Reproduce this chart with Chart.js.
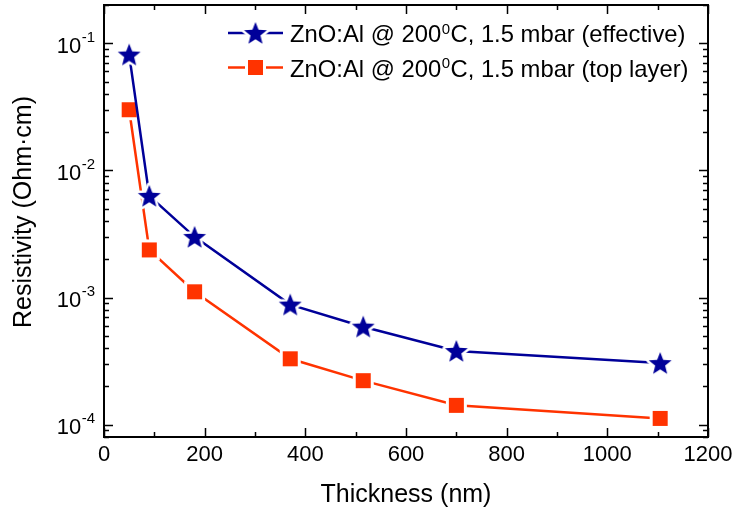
<!DOCTYPE html>
<html>
<head>
<meta charset="utf-8">
<script src="https://cdn.jsdelivr.net/npm/chart.js@4/dist/chart.umd.min.js"></script>
<style>
  html, body { margin: 0; padding: 0; background: #fff; }
  #wrap { width: 735px; height: 511px; }
</style>
</head>
<body>
<div id="wrap"><canvas id="c" width="735" height="511"></canvas></div>
<script>
// ---- data ----
const thickness = [50, 90, 180, 370, 515, 700, 1105];
const effective = [0.0815, 0.0063, 0.0030, 0.00088, 0.00059, 0.00038, 0.000305];
const topLayer  = [0.0300, 0.00237, 0.00111, 0.00033, 0.000222, 0.000142, 0.000112];
const seriesPrefix = 'ZnO:Al @ 200';
const seriesSup = '0';
const seriesSuffix = ['C, 1.5 mbar (effective)', 'C, 1.5 mbar (top layer)'];
const yDecadeExponents = [-1, -2, -3, -4];
const xTickStep = 200;
const xMinorStep = 100;
const xTitle = 'Thickness (nm)';
const yTitle = 'Resistivity (Ohm\u00B7cm)';

const BLUE = '#000099';
const RED = '#ff3300';
const FONT = "'Liberation Sans', Arial, sans-serif";

function makeStar(color) {
  const s = 32, c = document.createElement('canvas');
  c.width = s; c.height = s;
  const g = c.getContext('2d');
  const R = 12, r = 5.2, cx = s / 2, cy = s / 2 + 1;
  g.beginPath();
  for (let i = 0; i < 10; i++) {
    const a = -Math.PI / 2 + i * Math.PI / 5;
    const rr = i % 2 === 0 ? R : r;
    const px = cx + rr * Math.cos(a), py = cy + rr * Math.sin(a);
    i ? g.lineTo(px, py) : g.moveTo(px, py);
  }
  g.closePath();
  g.lineJoin = 'round';
  g.strokeStyle = '#fff'; g.lineWidth = 5; g.stroke();
  g.fillStyle = color; g.fill();
  return c;
}
function makeSquare(color) {
  const s = 23, c = document.createElement('canvas');
  c.width = s; c.height = s;
  const g = c.getContext('2d');
  g.fillStyle = '#fff'; g.fillRect(1, 1, s - 2, s - 2);
  g.fillStyle = color; g.fillRect(4, 4, 15, 15);
  return c;
}
const starImg = makeStar(BLUE);
const squareImg = makeSquare(RED);

const framePlugin = {
  id: 'frame',
  afterDraw(chart) {
    const ctx = chart.ctx, a = chart.chartArea;
    const xs = chart.scales.x, ys = chart.scales.y;
    ctx.save();
    ctx.strokeStyle = '#000';
    ctx.lineWidth = 2;
    ctx.strokeRect(a.left, a.top, a.right - a.left, a.bottom - a.top);
    ctx.lineWidth = 1.5;
    ctx.beginPath();
    for (let v = xs.min; v <= xs.max + 1e-9; v += xMinorStep) {
      const px = Math.round(xs.getPixelForValue(v)) + 0.5;
      const len = (v % xTickStep === 0) ? 9 : 5;
      ctx.moveTo(px, a.bottom); ctx.lineTo(px, a.bottom - len);
      ctx.moveTo(px, a.top); ctx.lineTo(px, a.top + len);
    }
    const lo = Math.floor(Math.log10(ys.min)), hi = Math.ceil(Math.log10(ys.max));
    for (let e = lo; e <= hi; e++) {
      for (let m = 1; m <= 9; m++) {
        const v = m * Math.pow(10, e);
        if (v < ys.min * 0.9999 || v > ys.max * 1.0001) continue;
        const py = Math.round(ys.getPixelForValue(v)) + 0.5;
        const len = m === 1 ? 9 : 5;
        ctx.moveTo(a.left, py); ctx.lineTo(a.left + len, py);
        ctx.moveTo(a.right, py); ctx.lineTo(a.right - len, py);
      }
    }
    ctx.stroke();

    // y tick labels 10^k
    ctx.fillStyle = '#000';
    for (const k of yDecadeExponents) {
      const py = ys.getPixelForValue(Math.pow(10, k));
      const sup = String(k);
      ctx.font = '15px ' + FONT;
      const sw = ctx.measureText(sup).width;
      const supX = 95 - sw;
      ctx.textAlign = 'left'; ctx.textBaseline = 'alphabetic';
      ctx.fillText(sup, supX, py - 1.5);
      ctx.font = '22px ' + FONT;
      ctx.textAlign = 'right';
      ctx.fillText('10', supX - 0.5, py + 9.5);
    }

    // y title
    ctx.save();
    ctx.translate(24, 212);
    ctx.rotate(-Math.PI / 2);
    ctx.font = '25px ' + FONT;
    ctx.textAlign = 'center'; ctx.textBaseline = 'middle';
    ctx.fillText(yTitle, 0, 0);
    ctx.restore();

    // legend
    const rows = [
      { img: starImg, color: BLUE, y: 33, suffix: seriesSuffix[0] },
      { img: squareImg, color: RED, y: 67.5, suffix: seriesSuffix[1] }
    ];
    for (const r of rows) {
      ctx.strokeStyle = r.color; ctx.lineWidth = 2.5;
      ctx.beginPath();
      ctx.moveTo(228, r.y); ctx.lineTo(283, r.y);
      ctx.stroke();
      ctx.drawImage(r.img, 255.5 - r.img.width / 2, r.y - r.img.height / 2);
      let x = 290;
      const base = r.y + 9;
      ctx.fillStyle = '#000';
      ctx.textAlign = 'left'; ctx.textBaseline = 'alphabetic';
      ctx.font = '23.8px ' + FONT;
      ctx.fillText(seriesPrefix, x, base);
      x += ctx.measureText(seriesPrefix).width + 0.5;
      ctx.font = '15px ' + FONT;
      ctx.fillText(seriesSup, x, base - 8.5);
      x += ctx.measureText(seriesSup).width + 0.5;
      ctx.font = '23.8px ' + FONT;
      ctx.fillText(r.suffix, x, base);
    }
    ctx.restore();
  }
};

new Chart(document.getElementById('c'), {
  type: 'line',
  data: {
    datasets: [
      {
        label: seriesPrefix + seriesSup + seriesSuffix[0],
        data: thickness.map((t, i) => ({ x: t, y: effective[i] })),
        borderColor: BLUE, backgroundColor: BLUE,
        borderWidth: 2.5, pointStyle: starImg, pointRadius: 11,
        tension: 0, clip: false
      },
      {
        label: seriesPrefix + seriesSup + seriesSuffix[1],
        data: thickness.map((t, i) => ({ x: t, y: topLayer[i] })),
        borderColor: RED, backgroundColor: RED,
        borderWidth: 2.5, pointStyle: squareImg, pointRadius: 10,
        tension: 0, clip: false
      }
    ]
  },
  options: {
    responsive: false,
    animation: false,
    events: [],
    layout: { autoPadding: false, padding: { top: 5, right: 27, left: 0, bottom: 0 } },
    plugins: { legend: { display: false }, tooltip: { enabled: false } },
    scales: {
      x: {
        type: 'linear', min: 0, max: 1200,
        grid: { display: false, drawTicks: false, tickLength: 0 },
        border: { display: false },
        ticks: { stepSize: xTickStep, color: '#000', font: { family: FONT, size: 22 }, padding: 5, maxRotation: 0,
                 callback: (v) => String(v) },
        title: { display: true, text: xTitle, color: '#000', font: { family: FONT, size: 25 }, padding: { top: 0, bottom: 1 } },
        afterFit(s) { s.height = 74; s.paddingLeft = 0; s.paddingRight = 0; s.paddingTop = 0; s.paddingBottom = 0; }
      },
      y: {
        type: 'logarithmic', min: 8e-5, max: 0.2,
        grid: { display: false, drawTicks: false, tickLength: 0 },
        border: { display: false },
        ticks: { display: false },
        title: { display: false },
        afterFit(s) { s.width = 104; s.paddingLeft = 0; s.paddingRight = 0; s.paddingTop = 0; s.paddingBottom = 0; }
      }
    }
  },
  plugins: [framePlugin]
});
</script>
</body>
</html>
